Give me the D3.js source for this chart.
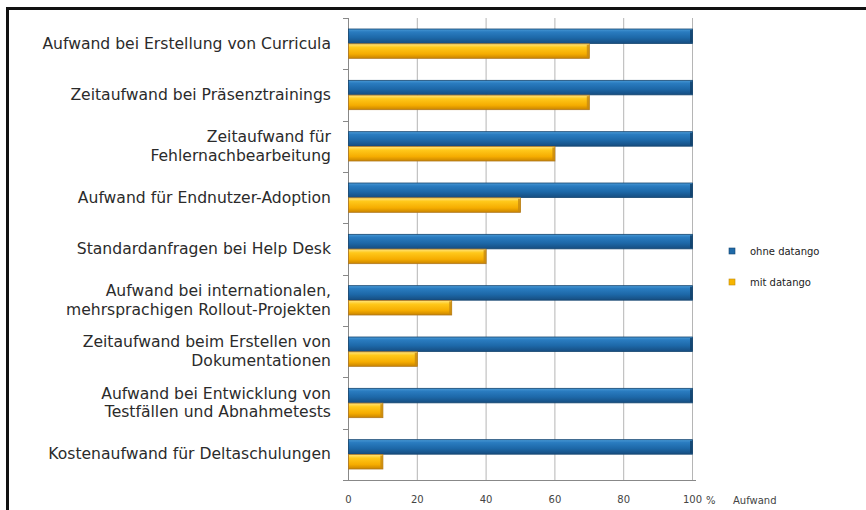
<!DOCTYPE html>
<html>
<head>
<meta charset="utf-8">
<script src="https://d3js.org/d3.v7.min.js"></script>
<style>
  body { margin: 0; background: #fff; }
  svg { display: block; }
  .label { font-family: "DejaVu Sans", Verdana, sans-serif; font-size: 15.6px; fill: #2b2b2b; }
  .tick text, .unit { font-family: "DejaVu Sans", Verdana, sans-serif; font-size: 10px; fill: #444; }
  .legend text { font-family: "DejaVu Sans", Verdana, sans-serif; font-size: 10px; fill: #222; }
</style>
</head>
<body>
<svg></svg>
<script>
// categories, top to bottom
let categories = [
  ["Aufwand bei Erstellung von Curricula"],
  ["Zeitaufwand bei Präsenztrainings"],
  ["Zeitaufwand für", "Fehlernachbearbeitung"],
  ["Aufwand für Endnutzer-Adoption"],
  ["Standardanfragen bei Help Desk"],
  ["Aufwand bei internationalen,", "mehrsprachigen Rollout-Projekten"],
  ["Zeitaufwand beim Erstellen von", "Dokumentationen"],
  ["Aufwand bei Entwicklung von", "Testfällen und Abnahmetests"],
  ["Kostenaufwand für Deltaschulungen"]
]
let ohne = [100, 100, 100, 100, 100, 100, 100, 100, 100]
let mit = [70, 70, 60, 50, 40, 30, 20, 10, 10]
let seriesNames = ["ohne datango", "mit datango"]
let xTicks = [0, 20, 40, 60, 80, 100]

let margin = { top: 18, left: 348 }
let width = 692 - 348
let height = 480 - 18

let svg = d3.select('svg').attr('width', 866).attr('height', 510)

// frame
svg.append('path')
  .attr('d', 'M7.5,510 L7.5,8.5 L866,8.5')
  .attr('fill', 'none')
  .attr('stroke', '#111')
  .attr('stroke-width', 3)

let defs = svg.append('defs')
let blueGrad = defs.append('linearGradient').attr('id', 'blue').attr('x1', 0).attr('y1', 0).attr('x2', 0).attr('y2', 1)
blueGrad.append('stop').attr('offset', '0%').attr('stop-color', '#4a9ad6')
blueGrad.append('stop').attr('offset', '20%').attr('stop-color', '#2a7cc0')
blueGrad.append('stop').attr('offset', '60%').attr('stop-color', '#1d68a8')
blueGrad.append('stop').attr('offset', '100%').attr('stop-color', '#164d80')
let yellowGrad = defs.append('linearGradient').attr('id', 'yellow').attr('x1', 0).attr('y1', 0).attr('x2', 0).attr('y2', 1)
yellowGrad.append('stop').attr('offset', '0%').attr('stop-color', '#ffe680')
yellowGrad.append('stop').attr('offset', '25%').attr('stop-color', '#ffc81a')
yellowGrad.append('stop').attr('offset', '70%').attr('stop-color', '#f5ac00')
yellowGrad.append('stop').attr('offset', '100%').attr('stop-color', '#c98400')

let chart = svg.append('g')
  .attr('transform', 'translate(' + margin.left + ',' + margin.top + ')')

let x = d3.scaleLinear().domain([0, 100]).range([0, width])
let y = d3.scaleBand().domain(d3.range(categories.length)).range([0, height])
let inner = d3.scaleBand().domain([0, 1]).range([11, y.bandwidth() - 11]).paddingInner(0.02)

// grid
chart.selectAll('.grid')
  .data(xTicks.slice(1))
  .enter()
  .append('line')
  .attr('x1', d => x(d) + 0.5)
  .attr('x2', d => x(d) + 0.5)
  .attr('y1', 0)
  .attr('y2', height)
  .attr('stroke', '#b5b5b5')

// x axis
let xAxis = chart.append('g').attr('class', 'axis x')
  .attr('transform', 'translate(0,' + height + ')')
  .call(d3.axisBottom(x).tickValues(xTicks).tickSize(0).tickPadding(16).tickFormat(d => d))
xAxis.select('.domain').remove()
chart.append('line')
  .attr('x1', -5).attr('x2', width + 4)
  .attr('y1', height + 0.5).attr('y2', height + 0.5)
  .attr('stroke', '#888')

chart.append('text').attr('class', 'unit')
  .attr('x', x(100) + 14).attr('y', height + 24).text('%')
chart.append('text').attr('class', 'unit')
  .attr('x', x(100) + 41).attr('y', height + 24).text('Aufwand')

// y axis line and ticks between categories
chart.append('line')
  .attr('x1', 0.5).attr('x2', 0.5).attr('y1', 0).attr('y2', height)
  .attr('stroke', '#888')
chart.selectAll('.ytick')
  .data(d3.range(categories.length + 1))
  .enter()
  .append('line')
  .attr('x1', -5).attr('x2', 0)
  .attr('y1', d => Math.round(d * y.step()) + 0.5)
  .attr('y2', d => Math.round(d * y.step()) + 0.5)
  .attr('stroke', '#888')

// category labels
let labels = svg.selectAll('.label')
  .data(categories)
  .enter()
  .append('text')
  .attr('class', 'label')
  .attr('text-anchor', 'end')
  .attr('transform', (d, i) => 'translate(331,' + (margin.top + y(i) + y.bandwidth() / 2) + ')')
labels.selectAll('tspan')
  .data(d => d.map((t, j) => ({ t: t, j: j, n: d.length })))
  .enter()
  .append('tspan')
  .attr('x', 0)
  .attr('y', d => (d.j - (d.n - 1) / 2) * 18.5 + 5)
  .text(d => d.t)

// bars
let series = [
  { values: ohne, fill: 'url(#blue)', stroke: '#15456f', cap: '#123f66' },
  { values: mit, fill: 'url(#yellow)', stroke: '#b07820', cap: '#c88a10' }
]
series.forEach((s, k) => {
  let g = chart.append('g')
  g.selectAll('rect.bar')
    .data(s.values)
    .enter()
    .append('rect')
    .attr('class', 'bar')
    .attr('x', x(0) + 0.5)
    .attr('y', (d, i) => y(i) + inner(k))
    .attr('width', d => x(d) - x(0))
    .attr('height', inner.bandwidth())
    .attr('fill', s.fill)
    .attr('stroke', s.stroke)
    .attr('stroke-width', 0.8)
  g.selectAll('rect.cap')
    .data(s.values)
    .enter()
    .append('rect')
    .attr('class', 'cap')
    .attr('x', d => x(d) - 2)
    .attr('y', (d, i) => y(i) + inner(k) + 1)
    .attr('width', 2.5)
    .attr('height', inner.bandwidth() - 2)
    .attr('fill', s.cap)
    .attr('opacity', 0.8)
})

// legend
let legend = svg.append('g').attr('class', 'legend')
  .selectAll('g')
  .data(seriesNames)
  .enter()
  .append('g')
  .attr('transform', (d, i) => 'translate(729,' + (248 + i * 31) + ')')
legend.append('rect')
  .attr('width', 6).attr('height', 6)
  .attr('fill', (d, i) => i === 0 ? '#1f6aa8' : '#f7b500')
  .attr('stroke', (d, i) => i === 0 ? '#15456f' : '#c08a10')
  .attr('stroke-width', 0.6)
legend.append('text')
  .attr('x', 21).attr('y', 7)
  .text(d => d)
</script>
</body>
</html>
